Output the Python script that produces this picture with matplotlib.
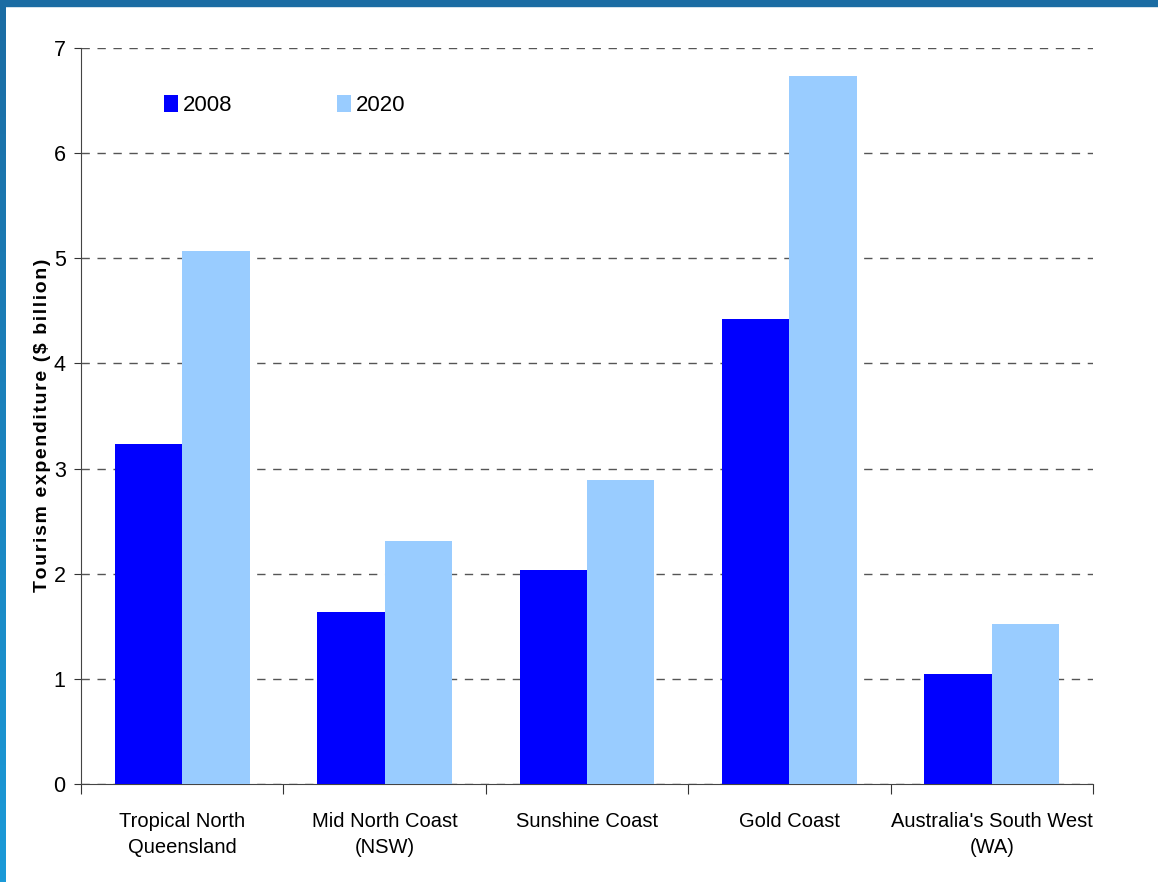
import matplotlib
matplotlib.use("Agg")
import matplotlib.pyplot as plt
from matplotlib import font_manager
from matplotlib.patches import Rectangle
import numpy as np

# --- данные ---
regions = ["Tropical North\nQueensland", "Mid North Coast\n(NSW)", "Sunshine Coast",
           "Gold Coast", "Australia's South West\n(WA)"]
spend_2008 = [3.23, 1.64, 2.04, 4.42, 1.05]
spend_2020 = [5.07, 2.31, 2.89, 6.73, 1.52]
series_names = ["2008", "2020"]
y_ticks = [0, 1, 2, 3, 4, 5, 6, 7]
y_title = "Tourism expenditure ($ billion)"

names = {f.name for f in font_manager.fontManager.ttflist}
font = "Liberation Sans Narrow" if "Liberation Sans Narrow" in names else "Liberation Sans"
plt.rcParams["font.family"] = [font, "DejaVu Sans"]

fig = plt.figure(figsize=(11.58, 8.82), dpi=100)

# --- рамка слева и сверху ---
grad = np.linspace(0, 1, 256).reshape(-1, 1)
edge_ax = fig.add_axes([0, 0, 6 / 1158, 1])
edge_ax.imshow(grad, aspect="auto", cmap=matplotlib.colors.LinearSegmentedColormap.from_list(
    "edge", ["#1a9ad8", "#1b6ca3"]), origin="lower")
edge_ax.axis("off")
fig.patches.append(Rectangle((0, 1 - 6 / 882), 1, 6 / 882, transform=fig.transFigure,
                             color="#1b6ca3", zorder=5))

ax = fig.add_axes([81 / 1158, 98 / 882, 1012 / 1158, 736 / 882])

x = np.arange(len(regions)) + 0.5
w = 1 / 3
ax.bar(x - w / 2, spend_2008, width=w, color="#0000ff", zorder=3, label=series_names[0])
ax.bar(x + w / 2, spend_2020, width=w, color="#99ccff", zorder=3, label=series_names[1])

ax.set_xlim(0, len(regions))
ax.set_ylim(0, 7)
ax.set_yticks(y_ticks)
ax.tick_params(axis="y", labelsize=15.5, length=5, pad=6, color="#333333")
ax.set_xticks(np.arange(len(regions) + 1))
ax.set_xticklabels([])
ax.tick_params(axis="x", length=7, color="#333333")
ax.set_xticks(x, minor=True)
ax.set_xticklabels(regions, minor=True, fontsize=14.5, linespacing=1.5)
ax.tick_params(axis="x", which="minor", length=0, pad=20)

ax.yaxis.grid(True, linestyle=(0, (6, 5.5)), color="#555555", linewidth=1)
ax.set_axisbelow(True)
for s in ["top", "right"]:
    ax.spines[s].set_visible(False)
for s in ["left", "bottom"]:
    ax.spines[s].set_color("#444444")

# подпись оси с разрядкой букв
ax.set_ylabel("\u200a".join(y_title), fontsize=14, fontweight="bold",
              family=["Liberation Sans", "DejaVu Sans"])
ax.yaxis.set_label_coords(-0.0296, 0.488)

ax.legend(loc="upper left", bbox_to_anchor=(0.062, 0.963), ncol=2, frameon=False,
          fontsize=16, handlelength=0.65, handleheight=0.75, handletextpad=0.2,
          columnspacing=4.7)

fig.savefig("out.png", dpi=100)
